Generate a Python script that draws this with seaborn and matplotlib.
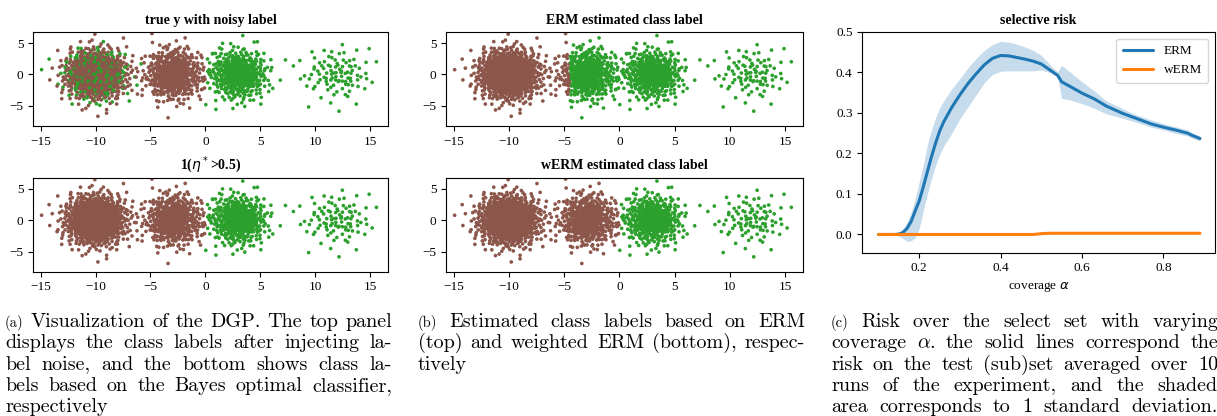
import numpy as np
import pandas as pd
import seaborn as sns
import matplotlib
matplotlib.use("Agg")
import matplotlib.pyplot as plt
from matplotlib.transforms import IdentityTransform

# ---------------- data ----------------
# Gaussian blobs of the data-generating process: centres / spreads / sizes
cluster_cx = [-10.0, -2.9, 3.0, 12.0]
cluster_cy = [0.0, 0.0, 0.0, 0.0]
cluster_sdx = [1.4, 1.25, 1.3, 1.6]
cluster_sdy = [2.0, 2.0, 2.0, 2.1]
cluster_n = [900, 520, 430, 100]
cluster_offset = [0, 1100, 2100, 2700]  # index offsets of the deterministic point sequence
cluster_noise = [0.28, 0.0, 0.0, 0.0]   # share of flipped labels per blob
bayes_cut = 0.0      # 1(eta* > 0.5)
erm_cut = -4.5       # ERM decision boundary
werm_cut = 0.0       # weighted ERM decision boundary

coverage = [0.10, 0.12, 0.14, 0.15, 0.16, 0.17, 0.18, 0.19, 0.20, 0.21, 0.22,
            0.23, 0.24, 0.25, 0.26, 0.28, 0.30, 0.32, 0.34, 0.36, 0.38, 0.40,
            0.42, 0.44, 0.46, 0.48, 0.50, 0.52, 0.53, 0.54, 0.55, 0.57, 0.60,
            0.63, 0.66, 0.70, 0.73, 0.77, 0.80, 0.83, 0.86, 0.87, 0.89]
erm_mean = [0.000, 0.000, 0.000, 0.001, 0.005, 0.015, 0.032, 0.058, 0.083, 0.118, 0.155,
            0.192, 0.225, 0.255, 0.278, 0.314, 0.345, 0.373, 0.397, 0.419, 0.435, 0.442,
            0.441, 0.437, 0.433, 0.428, 0.421, 0.407, 0.400, 0.393, 0.377, 0.366, 0.349,
            0.335, 0.317, 0.299, 0.288, 0.273, 0.265, 0.258, 0.250, 0.245, 0.237]
erm_upper = [0.000, 0.000, 0.001, 0.004, 0.014, 0.030, 0.055, 0.089, 0.130, 0.172, 0.222,
             0.258, 0.288, 0.312, 0.330, 0.360, 0.385, 0.412, 0.435, 0.455, 0.469, 0.477,
             0.475, 0.470, 0.463, 0.455, 0.442, 0.421, 0.410, 0.402, 0.418, 0.402, 0.377,
             0.355, 0.330, 0.311, 0.297, 0.283, 0.274, 0.266, 0.258, 0.252, 0.243]
erm_lower = [0.000, 0.000, -0.001, -0.004, -0.010, -0.017, -0.016, -0.008, 0.015, 0.058, 0.100,
             0.138, 0.170, 0.197, 0.218, 0.250, 0.286, 0.315, 0.345, 0.375, 0.395, 0.403,
             0.404, 0.404, 0.404, 0.404, 0.406, 0.400, 0.396, 0.390, 0.336, 0.332, 0.323,
             0.312, 0.298, 0.287, 0.278, 0.265, 0.258, 0.250, 0.243, 0.238, 0.231]
werm_mean = [0.000] * 26 + [0.002] + [0.003] * 16

panel_titles = ["true y with noisy label", r"1($\eta^*$>0.5)",
                "ERM estimated class label", "wERM estimated class label",
                "selective risk"]

BROWN = "#8c564b"
GREEN = "#2ca02c"
BLUE = "#1f77b4"
ORANGE = "#ff7f0e"


# deterministic low-discrepancy placement of the blob points
def radical_inverse(idx, base):
    out = np.zeros(len(idx))
    i = idx.copy()
    f = 1.0 / base
    while np.any(i > 0):
        out += f * (i % base)
        i //= base
        f /= base
    return out


xs, ys, flip = [], [], []
for k in range(len(cluster_n)):
    idx = np.arange(cluster_offset[k] + 1, cluster_offset[k] + cluster_n[k] + 1)
    u1 = radical_inverse(idx, 2)
    u2 = radical_inverse(idx, 3)
    u3 = radical_inverse(idx, 5)
    r = np.sqrt(-2 * np.log(u1))
    xs.append(cluster_cx[k] + cluster_sdx[k] * r * np.cos(2 * np.pi * u2))
    ys.append(cluster_cy[k] + cluster_sdy[k] * r * np.sin(2 * np.pi * u2))
    flip.append(u3 < cluster_noise[k])

df = pd.DataFrame({"x": np.concatenate(xs), "y": np.concatenate(ys),
                   "flip": np.concatenate(flip)})
df["bayes"] = (df["x"] > bayes_cut).astype(int)
df["noisy"] = np.where(df["flip"], 1 - df["bayes"], df["bayes"])
df["erm"] = (df["x"] > erm_cut).astype(int)
df["werm"] = (df["x"] > werm_cut).astype(int)

# ---------------- style ----------------
sns.set_theme(style="ticks")
plt.rcParams.update({
    "font.family": ["Liberation Serif", "DejaVu Serif"],
    "axes.edgecolor": "black", "axes.labelcolor": "black", "text.color": "black",
    "xtick.color": "black", "ytick.color": "black",
    "axes.linewidth": 0.8, "xtick.major.width": 0.8, "ytick.major.width": 0.8,
    "xtick.major.size": 3.5, "ytick.major.size": 3.5,
    "xtick.labelsize": 9.5, "ytick.labelsize": 9.5, "axes.labelsize": 9.5,
    "axes.titlesize": 10, "axes.titleweight": "bold", "axes.titlepad": 6,
    "legend.fontsize": 9.5, "axes.unicode_minus": True,
    "axes.facecolor": "white", "figure.facecolor": "white",
})

W, H = 1217, 416
fig = plt.figure(figsize=(W / 100, H / 100), dpi=100)


def px_axes(l, t, r, b):
    return fig.add_axes([l / W, 1 - b / H, (r - l) / W, (b - t) / H])


scatter_boxes = [(33, 32, 388, 126), (33, 177.5, 388, 271.7),
                 (446, 32, 803, 126), (446, 177.5, 803, 271.7)]
label_cols = ["noisy", "bayes", "erm", "werm"]
pal = {0: BROWN, 1: GREEN}
for box, col, title in zip(scatter_boxes, label_cols, panel_titles[:4]):
    ax = px_axes(*box)
    sns.scatterplot(data=df, x="x", y="y", hue=col, palette=pal, s=7,
                    linewidth=0, legend=False, ax=ax)
    ax.set_xlim(-15.7, 16.63)
    ax.set_ylim(-8.2, 6.75)
    ax.set_xticks([-15, -10, -5, 0, 5, 10, 15])
    ax.set_yticks([-5, 0, 5])
    ax.set_xlabel("")
    ax.set_ylabel("")
    ax.set_title(title)

# selective risk panel
axc = px_axes(862.3, 32, 1215, 252.7)
axc.fill_between(coverage, erm_lower, erm_upper, color=BLUE, alpha=0.25, lw=0)
sns.lineplot(x=coverage, y=erm_mean, color=BLUE, lw=2.2, label="ERM", ax=axc)
sns.lineplot(x=coverage, y=werm_mean, color=ORANGE, lw=2.2, label="wERM", ax=axc)
axc.set_xlim(0.06, 0.927)
axc.set_ylim(-0.045, 0.5)
axc.set_xticks([0.2, 0.4, 0.6, 0.8])
axc.set_yticks([0.0, 0.1, 0.2, 0.3, 0.4, 0.5])
axc.set_xlabel(r"coverage $\alpha$")
axc.set_ylabel("")
axc.set_title(panel_titles[4])
axc.legend(loc="upper right", handlelength=2.3, frameon=True, fancybox=True,
           edgecolor="0.8", borderpad=0.5)

# ---------------- captions (justified, Computer Modern) ----------------
renderer = fig.canvas.get_renderer()
CAP_FS = 14.5
SMALL_FS = 10.5
CAP_W = 387
LINE_H = 21.3
ident = IdentityTransform()


def put_line(parts, x0, y_top, justify):
    texts = []
    for s, fs in parts:
        t = fig.text(0, 0, s, transform=ident, fontsize=fs, family="cmr10",
                     math_fontfamily="cm", va="baseline", ha="left")
        texts.append(t)
    widths = [t.get_window_extent(renderer).width for t in texts]
    if justify and len(texts) > 1:
        gap = (CAP_W - sum(widths)) / (len(texts) - 1)
    else:
        gap = CAP_FS * 0.333 * 100 / 72
    x = x0
    for t, w in zip(texts, widths):
        t.set_position((x, H - y_top))
        x += w + gap


def caption(tag, lines, x0, y0, justify_last):
    for i, line in enumerate(lines):
        parts = [(w, CAP_FS) for w in line.split(" ")]
        if i == 0:
            parts = [(tag, SMALL_FS)] + parts
        last = i == len(lines) - 1
        put_line(parts, x0, y0 + i * LINE_H, justify=(not last) or justify_last)


cap_a = ["Visualization of the DGP. The top panel",
         "displays the class labels after injecting la-",
         "bel noise, and the bottom shows class la-",
         "bels based on the Bayes optimal classifier,",
         "respectively"]
cap_b = ["Estimated class labels based on ERM",
         "(top) and weighted ERM (bottom), respec-",
         "tively"]
cap_c = ["Risk over the select set with varying",
         r"coverage $\alpha$. the solid lines correspond the",
         "risk on the test (sub)set averaged over 10",
         "runs of the experiment, and the shaded",
         "area corresponds to 1 standard deviation."]

caption("(a)", cap_a, 5, 327, False)
caption("(b)", cap_b, 418, 327, False)
caption("(c)", cap_c, 831, 327, True)

fig.savefig("out.png", dpi=100)
